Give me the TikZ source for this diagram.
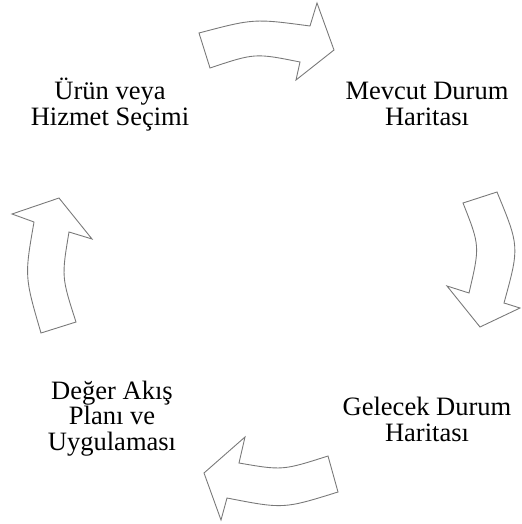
\documentclass[tikz,border=0pt]{standalone}
\usepackage{fontspec}
\setmainfont{Liberation Serif}
\usepackage{tikz}
\usetikzlibrary{positioning}
\definecolor{arrowgray}{RGB}{120, 120, 120}
\tikzset{
  stage/.style={
    inner sep=0pt, align=center, anchor=base,
    font=\fontsize{15.1}{14.6}\selectfont
  },
  blockarrow/.style={
    draw=arrowgray, fill=white, line width=0.5pt, line join=miter
  },
}

\begin{document}
\begin{tikzpicture}[x=0.02cm, y=-0.02cm]

  \useasboundingbox (0,0) rectangle (521,524);

  % Nodes
  \node[stage] (secim)   at (110,125)   {Ürün veya\\ Hizmet Seçimi};
  \node[stage] (mevcut)  at (427,125)   {Mevcut Durum\\ Haritası};
  \node[stage] (gelecek) at (427,441)   {Gelecek Durum\\ Haritası};
  \node[stage] (plan)    at (112,450.5) {Değer Akış\\ Planı ve\\ Uygulaması};

  % Arrows
  \draw[blockarrow] (199,33) .. controls (254,18.5) .. (310,26) -- (317,3)
    -- (334,50) -- (296,80) -- (300,62) .. controls (255,53) .. (210,68) -- cycle;
  \draw[blockarrow] (497,192) .. controls (519.5,246.5) .. (504,303) -- (520,308)
    -- (480,327) -- (447,286) -- (469,293) .. controls (480,246) .. (463,203) -- cycle;
  \draw[blockarrow] (328,456) .. controls (282.5,470.5) .. (239,463) -- (245,437)
    -- (204,473) -- (221,520) -- (227,498) .. controls (283.5,509) .. (338,492) -- cycle;
  \draw[blockarrow] (76,322) .. controls (61.5,277) .. (69,232) -- (92,239)
    -- (59,198) -- (12,214) -- (34,222) .. controls (24.5,276.5) .. (41,333) -- cycle;

\end{tikzpicture}
\end{document}
